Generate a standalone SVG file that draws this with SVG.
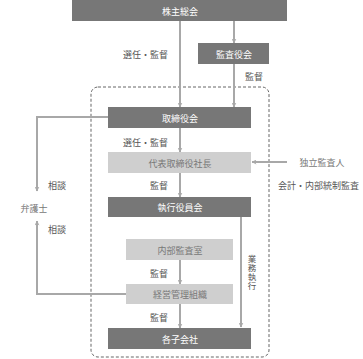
<svg xmlns="http://www.w3.org/2000/svg" width="363" height="359" viewBox="0 0 363 359">
<defs>
<marker id="ah" viewBox="0 0 10 10" refX="9" refY="5" markerWidth="5" markerHeight="5" orient="auto" markerUnits="userSpaceOnUse">
<path d="M0,0 L10,5 L0,10 L3,5 Z" fill="#a8a8a8"/>
</marker>
<style>
.dk{fill:#777777;}
.lt{fill:#cfcfcf;}
.tw{font-family:"Noto Sans CJK JP","Noto Sans CJK SC",sans-serif;font-size:9px;fill:#ffffff;text-anchor:middle;dominant-baseline:central;}
.tg{font-family:"Noto Sans CJK JP","Noto Sans CJK SC",sans-serif;font-size:9px;fill:#777777;text-anchor:middle;dominant-baseline:central;}
.lb{font-family:"Noto Sans CJK JP","Noto Sans CJK SC",sans-serif;font-size:9px;fill:#555555;dominant-baseline:central;}
.vt{font-family:"Noto Sans CJK JP","Noto Sans CJK SC",sans-serif;font-size:8.5px;fill:#555555;writing-mode:vertical-rl;text-orientation:upright;text-anchor:start;dominant-baseline:central;}
.ar{fill:none;stroke:#a8a8a8;stroke-width:2;marker-end:url(#ah);}
</style>
</defs>
<rect x="91" y="87" width="178" height="270" rx="7" fill="none" stroke="#666666" stroke-width="1" stroke-dasharray="3,2"/>
<g id="connectors">
<line class="ar" x1="180" y1="21" x2="180" y2="107"/>
<line class="ar" x1="234" y1="21" x2="234" y2="43"/>
<line class="ar" x1="234" y1="64" x2="234" y2="107"/>
<polyline class="ar" points="108,117 37,117 37,191"/>
<polyline class="ar" points="126,294 37,294 37,221"/>
<line class="ar" x1="180" y1="128" x2="180" y2="152"/>
<line class="ar" x1="287" y1="162" x2="252" y2="162"/>
<line class="ar" x1="180" y1="173" x2="180" y2="197"/>
<line class="ar" x1="241" y1="217" x2="241" y2="327"/>
<line class="ar" x1="180" y1="260" x2="180" y2="284"/>
<line class="ar" x1="180" y1="304" x2="180" y2="328"/>
<text class="lb" x="123" y="54">選任・監督</text>
<text class="lb" x="245" y="76">監督</text>
<text class="lb" x="123" y="142">選任・監督</text>
<text class="lb" x="150" y="185">監督</text>
<text class="lb" x="48" y="185">相談</text>
<text class="lb" x="48" y="229">相談</text>
<text class="lb" x="278" y="185">会計・内部統制監査</text>
<text class="lb" x="150" y="273">監督</text>
<text class="lb" x="150" y="317">監督</text>
<text class="vt" x="252" y="255" letter-spacing="0.5">業務執行</text>
</g>
<g id="n1"><rect class="dk" x="72" y="0" width="215" height="21"/><text class="tw" x="180" y="11">株主総会</text></g>
<g id="n2"><rect class="dk" x="198" y="43" width="71" height="21"/><text class="tw" x="234" y="54">監査役会</text></g>
<g id="n3"><rect class="dk" x="108" y="107" width="143" height="21"/><text class="tw" x="180" y="118">取締役会</text></g>
<g id="n4"><rect class="lt" x="108" y="152" width="143" height="21"/><text class="tg" x="180" y="163">代表取締役社長</text></g>
<g id="n5"><rect class="dk" x="108" y="197" width="143" height="20"/><text class="tw" x="180" y="207">執行役員会</text></g>
<g id="n6"><rect class="lt" x="126" y="239" width="107" height="21"/><text class="tg" x="180" y="250">内部監査室</text></g>
<g id="n7"><rect class="lt" x="126" y="284" width="107" height="20"/><text class="tg" x="180" y="294">経営管理組織</text></g>
<g id="n8"><rect class="dk" x="108" y="328" width="143" height="21"/><text class="tw" x="180" y="339">各子会社</text></g>
<g id="n9"><text class="tg" x="34" y="208">弁護士</text></g>
<g id="n10"><text class="tg" x="322" y="162">独立監査人</text></g>
</svg>
